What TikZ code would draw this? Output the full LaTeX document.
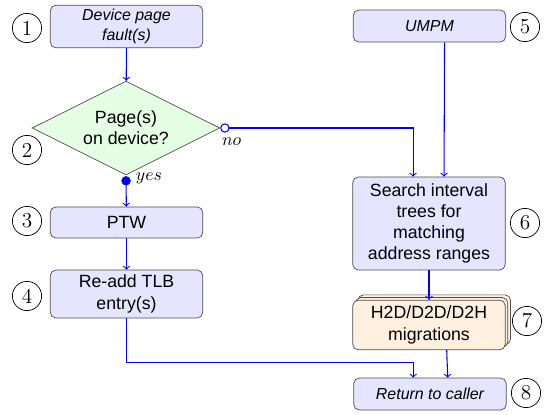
\documentclass[tikz,border=0pt]{standalone}
\usepackage{fontspec}
\setsansfont{Liberation Sans}
\usetikzlibrary{arrows,shapes.geometric,shadows}

\begin{document}
\begin{tikzpicture}[x=0.5647pt, y=-0.5647pt]
\tikzset{etape/.style={draw=black!70, fill=blue!10, rounded corners=3pt, font=\sffamily, align=center, minimum width=86pt, inner sep=2pt},
  question/.style={draw=black!70, fill=green!10, diamond, aspect=2, font=\sffamily, align=center, minimum width=106pt, minimum height=53pt, inner sep=0pt},
  migr/.style={etape, fill=orange!12, double copy shadow={shadow xshift=1.5pt, shadow yshift=1.5pt, fill=orange!12, draw=black!70}},
  numero/.style={draw, circle, minimum size=16.5pt, inner sep=0pt, font=\large},
  fleche/.style={->, blue, semithick}}
\useasboundingbox (0,0) rectangle (551,415);
\node[etape, minimum height=24pt, font=\sffamily\itshape\small] (B1) at (126.5,26.5) {Device page\\fault(s)};
\node[question] (D) at (126,128) {Page(s)\\on device?};
\node[etape, minimum height=17.5pt] (B3) at (126.5,222.5) {PTW};
\node[etape, minimum height=27pt] (B4) at (126.5,294) {Re-add TLB\\entry(s)};
\node[etape, minimum height=18pt, font=\sffamily\itshape\small] (B5) at (429.5,26) {UMPM};
\node[etape, minimum height=52.5pt] (B6) at (429,223.5) {Search interval\\trees for\\matching\\address ranges};
\node[migr, minimum height=28pt] (B7) at (429,325) {H2D/D2D/D2H\\migrations};
\node[etape, minimum height=18pt, font=\sffamily\itshape\small] (B8) at (430,394) {Return to caller};
\node[numero] (N1) at (27,28) {1};
\node[numero] (N2) at (27,150) {2};
\node[numero] (N3) at (27,221) {3};
\node[numero] (N4) at (27,296) {4};
\node[numero] (N5) at (525,27) {5};
\node[numero] (N6) at (525,223) {6};
\node[numero] (N7) at (527,321) {7};
\node[numero] (N8) at (526,393) {8};
\draw[fleche] (B1) -- (D);
\draw[fleche, *->] ([yshift=-0.5pt]D.south) -- node[pos=0, right, black, xshift=2pt, yshift=-1.5pt] {$yes$} (B3);
\draw[fleche, o->] (D.east) -- node[pos=0, below, black, xshift=6.5pt, yshift=-2pt] {$no$} ++(0:191) -| ([xshift=-9pt]B6.north);
\draw[fleche] ([xshift=8.5pt]B5.south) -- ([xshift=8.5pt]B6.north);
\draw[fleche] (B3) -- (B4);
\draw[fleche] (B6) -- (B7);
\draw[fleche] ([xshift=10pt]B7.south) -- ([xshift=10pt]B8.north);
\draw[fleche] (B4.south) -- ++(0,44) -| ([xshift=-9.5pt]B8.north);
\end{tikzpicture}
\end{document}
